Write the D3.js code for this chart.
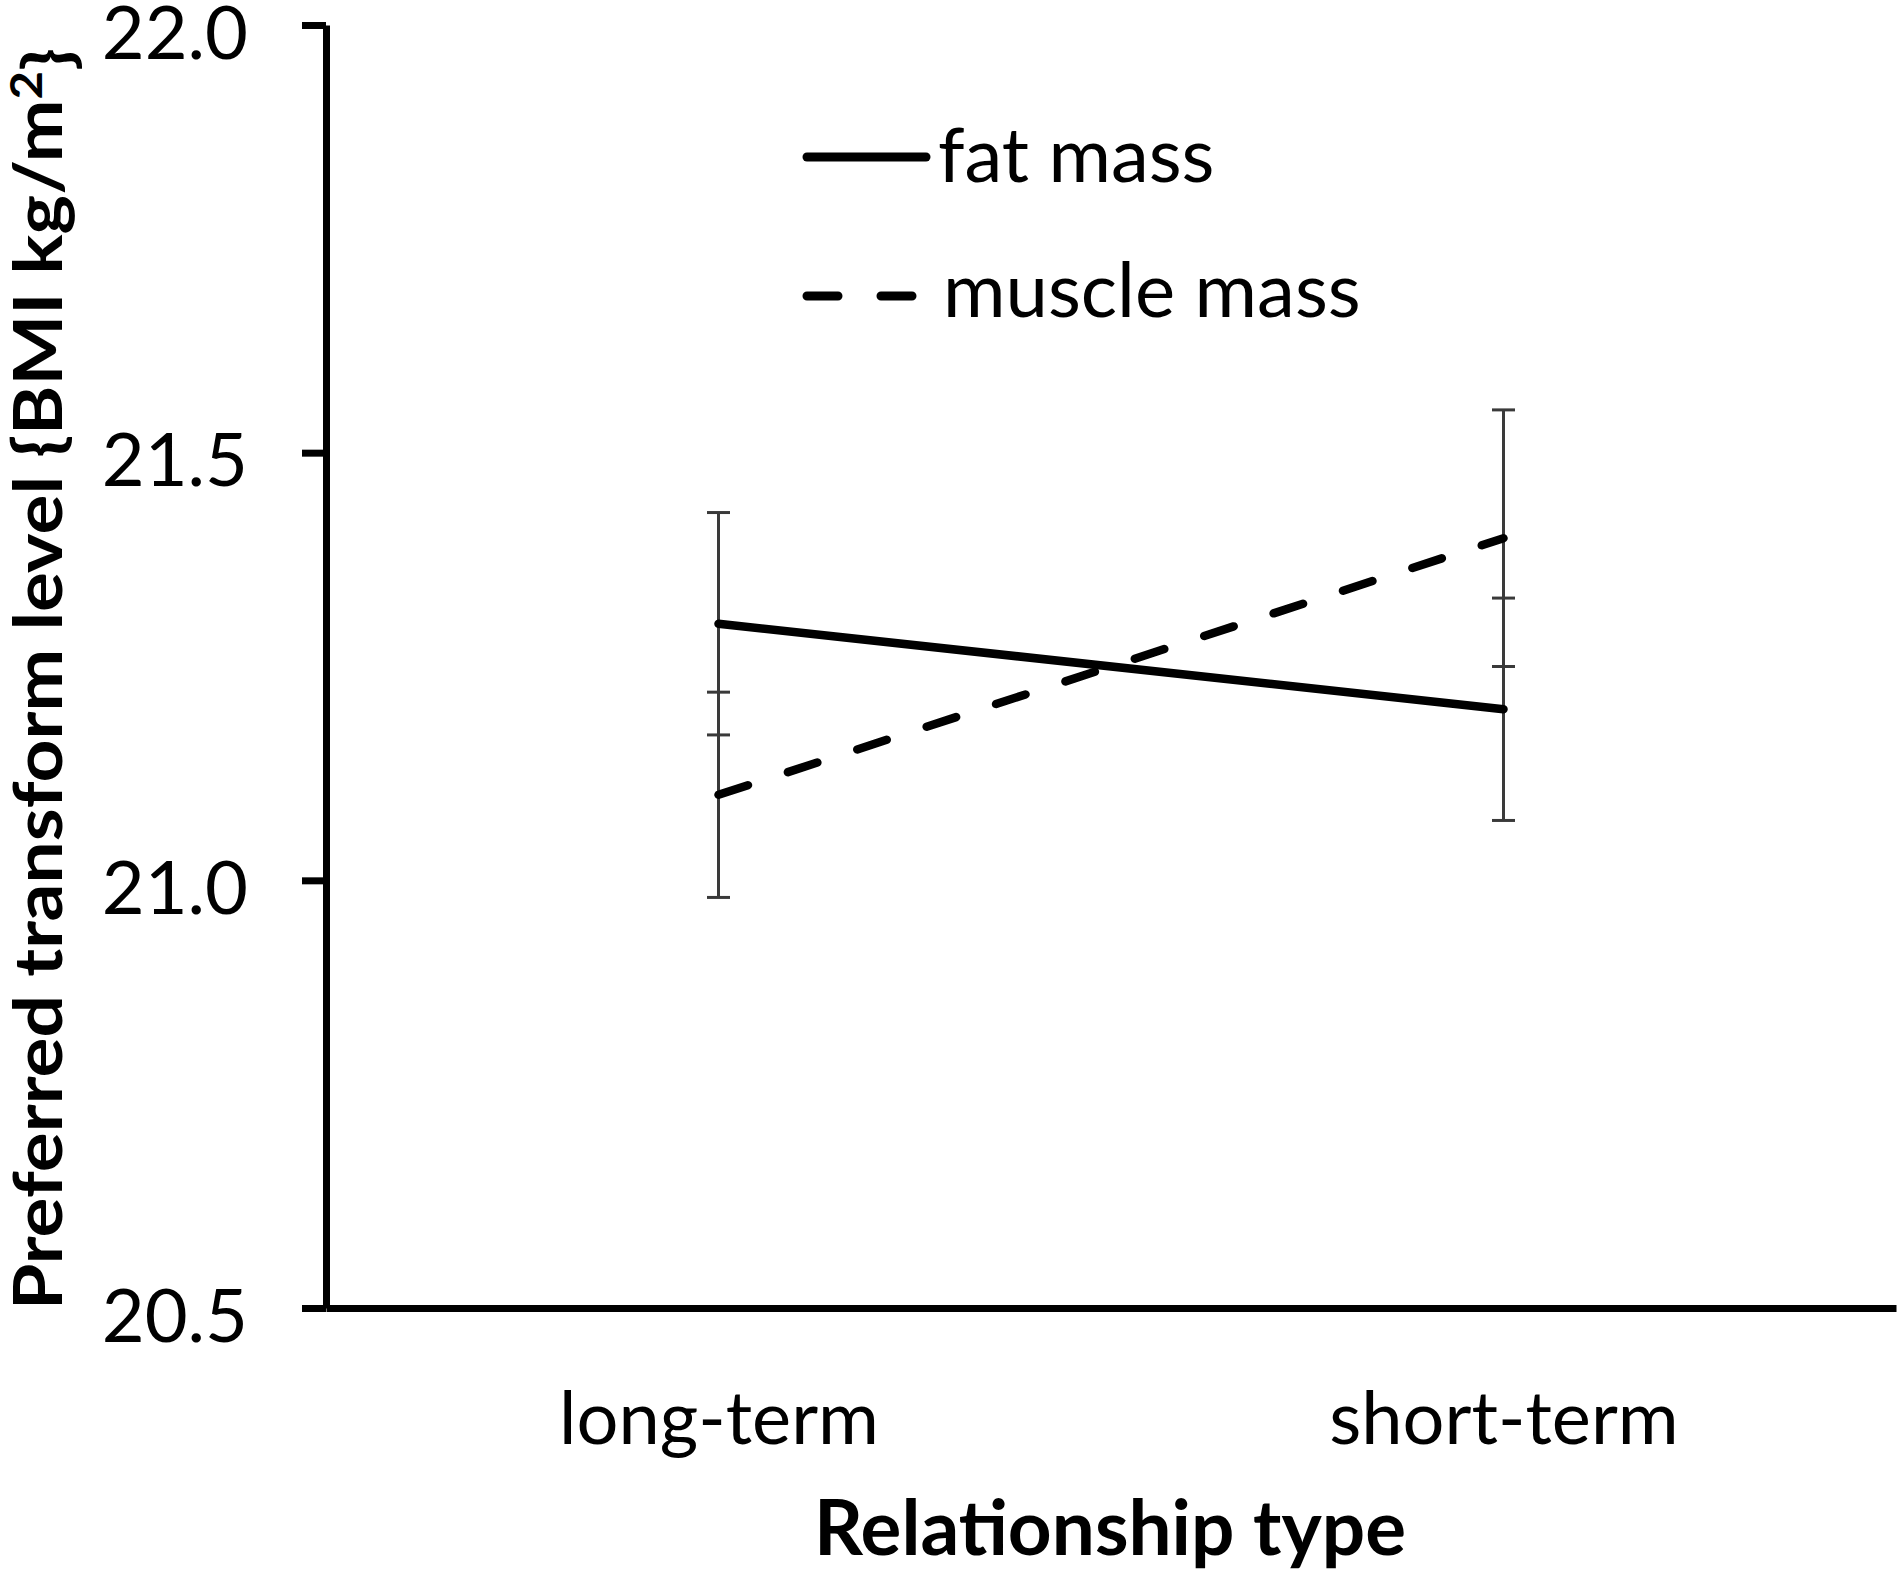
<!DOCTYPE html>
<html>
<head>
<meta charset="utf-8">
<script src="https://cdn.jsdelivr.net/npm/d3@7"></script>
<style>
    body { margin: 0; background: #fff; }
    text { font-family: Lato, "Open Sans", sans-serif; fill: #000; }
    .tick-label { font-size: 74px; }
    .axis-title { font-size: 76px; font-weight: bold; }
    .legend-label { font-size: 76px; }
</style>
</head>
<body>
<div class="graph"></div>
<script>
(function() {
    // data
    var categories = ["long-term", "short-term"];
    var fatMass = [21.30, 21.20];
    var fatErr = [0.13, 0.13];
    var muscleMass = [21.10, 21.40];
    var muscleErr = [0.12, 0.15];
    var yTicks = [20.5, 21.0, 21.5, 22.0];

    var widthBase = 1900;
    var heightBase = 1575;
    var margins = {
        "top": 25,
        "right": 4,
        "bottom": 267,
        "left": 326
    };
    var width = widthBase - margins.left - margins.right;
    var height = heightBase - margins.top - margins.bottom;

    var x = d3.scalePoint()
        .domain(categories)
        .range([0, width])
        .padding(0.5);

    var y = d3.scaleLinear()
        .domain([20.5, 22.0])
        .range([height, 0]);

    var series = [
        { name: "fat mass", values: fatMass, err: fatErr, dash: null },
        { name: "muscle mass", values: muscleMass, err: muscleErr, dash: "31,42" }
    ];

    var svg = d3.select(".graph")
        .append("svg")
            .attr("width", widthBase)
            .attr("height", heightBase);

    var graph = svg.append("g")
        .attr("transform", "translate(" + margins.left + "," + margins.top + ")");

    // y axis
    var yAxis = graph.append("g")
        .attr("class", "y axis")
        .call(d3.axisLeft(y)
            .tickValues(yTicks)
            .tickFormat(d3.format(".1f"))
            .tickSize(24)
            .tickSizeOuter(0)
            .tickPadding(54));
    yAxis.selectAll("path, line")
        .attr("stroke", "#000")
        .attr("stroke-width", 7);
    yAxis.selectAll("text")
        .attr("class", "tick-label")
        .attr("font-family", null)
        .attr("font-size", null)
        .attr("dy", "0.45em");

    // x axis: plain line with category labels
    var xAxis = graph.append("g")
        .attr("class", "x axis")
        .attr("transform", "translate(0," + height + ")")
        .call(d3.axisBottom(x).tickSize(0).tickSizeOuter(0));
    xAxis.select(".domain")
        .attr("stroke", "#000")
        .attr("stroke-width", 7);
    xAxis.selectAll("text")
        .attr("class", "tick-label")
        .attr("font-family", null)
        .attr("font-size", null)
        .attr("y", 136)
        .attr("dy", 0);

    // error bars
    var capW = 11.5;
    series.forEach(function(s) {
        var bars = graph.append("g")
            .attr("class", "errbars")
            .attr("stroke", "#3a3a3a")
            .attr("stroke-width", 3);
        categories.forEach(function(c, i) {
            var cx = x(c);
            var lo = y(s.values[i] - s.err[i]);
            var hi = y(s.values[i] + s.err[i]);
            bars.append("line")
                .attr("x1", cx).attr("x2", cx)
                .attr("y1", lo).attr("y2", hi);
            bars.append("line")
                .attr("x1", cx - capW).attr("x2", cx + capW)
                .attr("y1", lo).attr("y2", lo);
            bars.append("line")
                .attr("x1", cx - capW).attr("x2", cx + capW)
                .attr("y1", hi).attr("y2", hi);
        });
    });

    var line = d3.line()
        .x(function(d, i) { return x(categories[i]); })
        .y(function(d) { return y(d); });

    series.forEach(function(s) {
        graph.append("path")
            .datum(s.values)
            .attr("class", "line")
            .attr("fill", "none")
            .attr("stroke", "#000")
            .attr("stroke-width", 8.5)
            .attr("stroke-linecap", "round")
            .attr("stroke-dasharray", s.dash)
            .attr("d", line);
    });

    // legend
    var legend = svg.append("g").attr("class", "legend");
    var legendRows = [
        { s: series[0], lineY: 157, textY: 182, x2: 930, textX: 938, dash: null },
        { s: series[1], lineY: 296, textY: 317, x2: 917, textX: 943, dash: "31,43" }
    ];
    legendRows.forEach(function(r) {
        legend.append("line")
            .attr("x1", 807).attr("x2", r.x2 - 4)
            .attr("y1", r.lineY).attr("y2", r.lineY)
            .attr("stroke", "#000")
            .attr("stroke-width", 9)
            .attr("stroke-linecap", "round")
            .attr("stroke-dasharray", r.dash);
        legend.append("text")
            .attr("class", "legend-label")
            .attr("x", r.textX)
            .attr("y", r.textY)
            .text(r.s.name);
    });

    // text label for the x axis
    svg.append("text")
        .attr("class", "axis-title")
        .attr("x", 1110)
        .attr("y", 1555)
        .attr("textLength", 592)
        .attr("lengthAdjust", "spacingAndGlyphs")
        .style("text-anchor", "middle")
        .text("Relationship type");

    // text label for the y axis
    var yTitle = svg.append("text")
        .attr("class", "axis-title")
        .attr("transform", "translate(62,679) rotate(-90)")
        .attr("textLength", 1262)
        .attr("lengthAdjust", "spacingAndGlyphs")
        .style("text-anchor", "middle")
        .style("font-size", "67px");
    yTitle.append("tspan").text("Preferred transform level {BMI kg/m");
    yTitle.append("tspan")
        .attr("dy", "-0.45em")
        .style("font-size", "44px")
        .text("2");
    yTitle.append("tspan")
        .attr("dy", "0.45em")
        .text("}");
})();
</script>
</body>
</html>
